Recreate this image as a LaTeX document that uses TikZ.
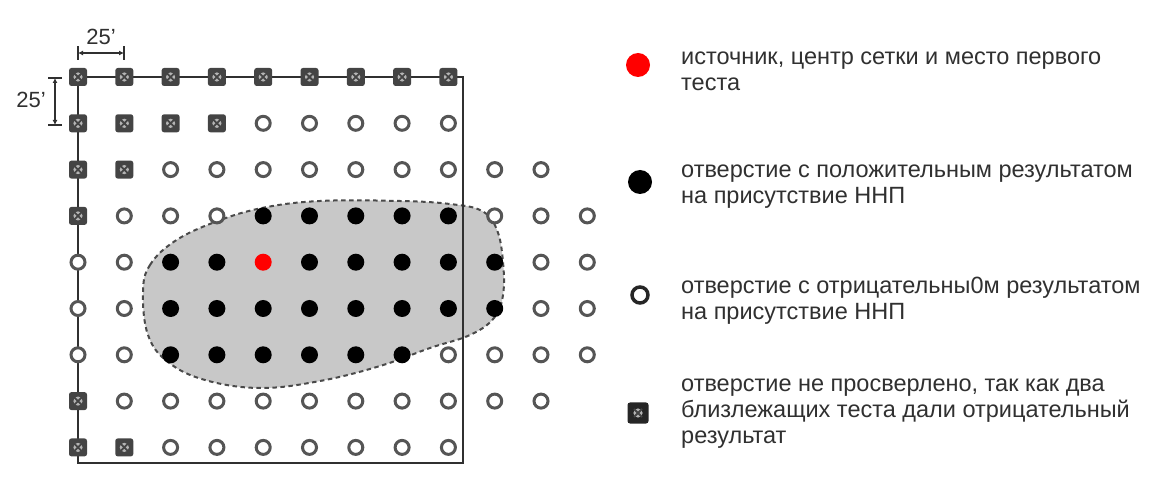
\documentclass[tikz,border=0pt]{standalone}
\usepackage{fontspec}
\setmainfont{Liberation Sans}
\usetikzlibrary{arrows.meta}
\definecolor{ink}{HTML}{303030}
\definecolor{holegray}{HTML}{555555}
\definecolor{crossgray}{HTML}{444444}
\definecolor{plume}{HTML}{C8C8C8}
\definecolor{plumeedge}{HTML}{4A4A4A}
\begin{document}
\begin{tikzpicture}[x=1bp,y=-1bp,
  hole/.style={circle,inner sep=0pt,outer sep=0pt},
  hole-o/.style={hole,minimum size=14bp,draw=holegray,line width=3bp,fill=white},
  hole-f/.style={hole,minimum size=17bp,fill=black},
  hole-r/.style={hole,minimum size=17bp,fill=red},
  hole-x/.style={rectangle,rounded corners=2.5bp,minimum size=18bp,inner sep=0pt,
    fill=crossgray,
    path picture={
      \fill[white!60!crossgray] (path picture bounding box.center) circle[radius=4.6bp];
      \draw[crossgray,line width=1.8bp]
        ([shift={(-4bp,-4bp)}]path picture bounding box.center) --
        ([shift={(4bp,4bp)}]path picture bounding box.center)
        ([shift={(-4bp,4bp)}]path picture bounding box.center) --
        ([shift={(4bp,-4bp)}]path picture bounding box.center);}},
  key-o/.style={hole,minimum size=16bp,draw=black!85,line width=3.5bp,fill=white},
  key-f/.style={hole,minimum size=24bp,fill=black},
  key-r/.style={hole,minimum size=24bp,fill=red},
  key-x/.style={hole-x,minimum size=21bp,fill=black!85},
  keytext/.style={anchor=west,inner sep=0pt,align=left,text=ink,
    font=\fontsize{23.5bp}{26bp}\selectfont},
  dimtext/.style={inner sep=0pt,text=ink,font=\fontsize{22bp}{24bp}\selectfont},
  frame/.style={draw=ink,line width=2.6bp,line join=miter},
  dimline/.style={draw=ink,line width=1.3bp,{Latex[length=5bp,width=5bp]}-{Latex[length=5bp,width=5bp]}},
  dimbar/.style={draw=ink,line width=1.5bp},
  plumearea/.style={fill=plume,draw=plumeedge,line width=2bp,dash pattern=on 4.5bp off 3.5bp}
]
\useasboundingbox (0,0) rectangle (1150,479);

% contaminated zone
\path[plumearea] plot[smooth cycle,tension=0.65] coordinates {
  (143,292) (150,265) (175,241) (215,222) (262,208) (320,201) (400,201)
  (450,204) (482,211) (497,230) (503,262) (503,295) (494,318) (470,335)
  (430,348) (380,366) (320,381) (260,388) (205,380) (168,362) (148,335)};

% property boundary
\coordinate (tl) at (78,77);
\coordinate (tr) at (463,77);
\coordinate (br) at (463,463);
\coordinate (bl) at (78,463);
\draw[frame] (tl) -- (tr) -- (br) -- (bl) -- cycle;

% grid of boreholes: x = not drilled, o = negative, f = positive, r = source
\foreach \row [count=\r from 0] in {
  {x,x,x,x,x,x,x,x,x},
  {x,x,x,x,o,o,o,o,o},
  {x,x,o,o,o,o,o,o,o,o,o},
  {x,o,o,o,f,f,f,f,f,o,o,o},
  {o,o,f,f,r,f,f,f,f,f,o,o},
  {o,o,f,f,f,f,f,f,f,f,o,o},
  {o,o,f,f,f,f,f,f,o,o,o,o},
  {x,o,o,o,o,o,o,o,o,o,o},
  {x,x,o,o,o,o,o,o,o}}{
  \foreach \t [count=\c from 0] in \row {
    \node[hole-\t] (h-\r-\c) at ({78+46.3*\c},{77+46.3*\r}) {};
  }
}

% grid spacing
\coordinate (dh1) at (78,53);
\coordinate (dh2) at (124,53);
\draw[dimline] (dh1) -- (dh2);
\draw[dimbar] ([yshift=-7bp]dh1) -- ([yshift=7bp]dh1);
\draw[dimbar] ([yshift=-7bp]dh2) -- ([yshift=7bp]dh2);
\node[dimtext] (dhl) at (101,37) {25'};
\coordinate (dv1) at (55,78);
\coordinate (dv2) at (55,125);
\draw[dimline] (dv1) -- (dv2);
\draw[dimbar] ([xshift=-7bp]dv1) -- ([xshift=7bp]dv1);
\draw[dimbar] ([xshift=-7bp]dv2) -- ([xshift=7bp]dv2);
\node[dimtext] (dvl) at (31,100) {25'};

% key
\node[key-r] (k1) at (638,65) {};
\node[keytext] (t1) at (681,71) {источник, центр сетки и место первого\\теста};
\node[key-f] (k2) at (640,182) {};
\node[keytext] (t2) at (681,187) {отверстие с положительным результатом\\на присутствие ННП};
\node[key-o] (k3) at (640,295) {};
\node[keytext] (t3) at (681,301) {отверстие с отрицательны0м результатом\\на присутствие ННП};
\node[key-x] (k4) at (638,413) {};
\node[keytext] (t4) at (681,414) {отверстие не просверлено, так как два\\близлежащих теста дали отрицательный\\результат};
\end{tikzpicture}
\end{document}
